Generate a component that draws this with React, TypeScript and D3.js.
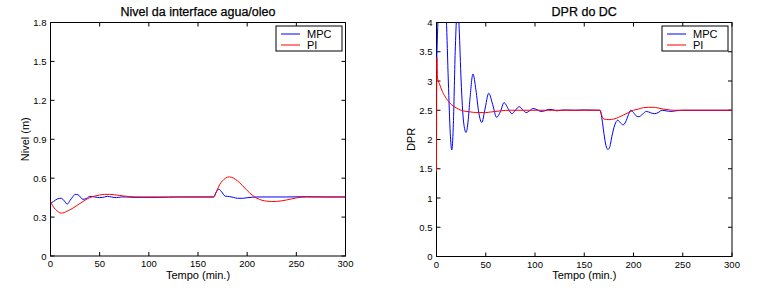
import React from "react";
import * as d3 from "d3";

// ---------- data ----------
const xTicks = [0, 50, 100, 150, 200, 250, 300];
const levelTicks = [0, 0.3, 0.6, 0.9, 1.2, 1.5, 1.8];
const dprTicks = [0, 0.5, 1, 1.5, 2, 2.5, 3, 3.5, 4];
const seriesNames = ["MPC", "PI"];

const levelMpcT = [0, 3, 7, 11, 14, 17, 20, 23, 25, 28, 33, 37, 40, 45, 50, 55, 58, 62, 67, 72, 77, 85, 95, 110, 130, 150, 166, 168, 171, 174, 177.5, 182, 186, 190, 195, 200, 205, 210, 220, 240, 260, 280, 300];
const levelMpcV = [0.405, 0.42, 0.44, 0.445, 0.425, 0.4, 0.43, 0.46, 0.475, 0.472, 0.437, 0.445, 0.46, 0.455, 0.45, 0.455, 0.46, 0.455, 0.45, 0.455, 0.455, 0.452, 0.452, 0.452, 0.455, 0.455, 0.455, 0.485, 0.515, 0.495, 0.462, 0.458, 0.452, 0.445, 0.445, 0.449, 0.453, 0.455, 0.455, 0.455, 0.457, 0.455, 0.455];

const levelPiT = [0, 2, 5, 8, 11, 14, 18, 22, 26, 30, 35, 40, 45, 50, 55, 60, 65, 70, 75, 80, 90, 100, 120, 150, 166, 169, 172, 175, 178, 182, 186, 190, 195, 200, 205, 210, 215, 220, 225, 230, 235, 240, 245, 250, 255, 260, 270, 300];
const levelPiV = [0.42, 0.39, 0.36, 0.34, 0.33, 0.335, 0.35, 0.365, 0.385, 0.405, 0.43, 0.45, 0.462, 0.47, 0.475, 0.475, 0.472, 0.467, 0.462, 0.458, 0.455, 0.455, 0.455, 0.455, 0.455, 0.5, 0.55, 0.58, 0.6, 0.61, 0.6, 0.58, 0.545, 0.505, 0.47, 0.445, 0.43, 0.423, 0.42, 0.421, 0.425, 0.432, 0.44, 0.448, 0.453, 0.455, 0.455, 0.455];

const dprMpcT = [0, 1, 2, 4, 6, 8, 10, 12, 14, 15.5, 17, 19, 20.5, 22, 23, 25, 27.5, 30, 32, 34, 37, 40, 43, 46, 49, 53, 57, 61, 65, 68.5, 73, 76.5, 80, 84, 88, 91, 94.5, 98, 102, 106, 110, 114, 118, 122, 126, 130, 140, 150, 166, 168, 170, 172, 174, 176, 178, 181, 184, 187, 189.5, 192, 195, 197, 200, 203, 205.5, 209, 213, 217, 221, 225, 229, 233, 238, 243, 250, 300];
const dprMpcV = [3.2, 3.8, 4.2, 4.7, 4.8, 4.5, 4.05, 3.0, 2.1, 1.82, 2.2, 3.5, 4.1, 4.2, 3.9, 3.0, 2.3, 2.12, 2.3, 2.7, 3.12, 2.85, 2.45, 2.29, 2.5, 2.79, 2.6, 2.38, 2.48, 2.63, 2.52, 2.44, 2.5, 2.56, 2.5, 2.46, 2.49, 2.53, 2.51, 2.48, 2.49, 2.515, 2.51, 2.49, 2.5, 2.505, 2.5, 2.505, 2.5, 2.35, 2.1, 1.9, 1.83, 1.88, 2.05, 2.25, 2.33, 2.28, 2.25, 2.3, 2.43, 2.5, 2.46, 2.4, 2.39, 2.43, 2.48, 2.46, 2.44, 2.46, 2.5, 2.49, 2.48, 2.49, 2.5, 2.5];

const dprPiT = [0, 0.4, 1, 3, 6, 10, 15, 20, 25, 30, 35, 40, 50, 55, 65, 75, 100, 166, 168, 170, 175, 180, 185, 190, 195, 200, 205, 210, 215, 220, 225, 230, 235, 240, 300];
const dprPiV = [1.45, 3.4, 3.05, 2.95, 2.82, 2.7, 2.6, 2.54, 2.5, 2.48, 2.47, 2.46, 2.46, 2.47, 2.49, 2.5, 2.5, 2.5, 2.4, 2.35, 2.34, 2.35, 2.38, 2.42, 2.46, 2.5, 2.52, 2.545, 2.55, 2.55, 2.54, 2.52, 2.51, 2.5, 2.5];

const FONT = "'Liberation Sans', Arial, sans-serif";
const COLORS = ["#0000ff", "#ff0000"];

type PanelProps = {
  id: string;
  left: number;
  right: number;
  top: number;
  bottom: number;
  title: string;
  yLabel: string;
  yMax: number;
  yTicks: number[];
  yFmt: (v: number) => string;
  series: { t: number[]; v: number[] }[];
  legendX: number;
};

function Panel(p: PanelProps) {
  const x = d3.scaleLinear().domain([0, 300]).range([p.left, p.right]);
  const y = d3.scaleLinear().domain([0, p.yMax]).range([p.bottom, p.top]);
  const line = d3
    .line<[number, number]>()
    .x((d) => x(d[0]))
    .y((d) => y(d[1]))
    .curve(d3.curveMonotoneX);
  const tl = 4;
  const cx = (p.left + p.right) / 2;
  const cy = (p.top + p.bottom) / 2;
  const lgTop = 26;
  const lgW = 66;
  const lgH = 25;
  return (
    <g>
      <defs>
        <clipPath id={p.id}>
          <rect x={p.left - 1} y={p.top} width={p.right - p.left + 1} height={p.bottom - p.top} />
        </clipPath>
      </defs>
      <rect x={p.left} y={p.top} width={p.right - p.left} height={p.bottom - p.top} fill="#fff" stroke="#000" strokeWidth={1} />
      {xTicks.map((t) => (
        <g key={"x" + t}>
          <line x1={x(t)} x2={x(t)} y1={p.bottom} y2={p.bottom - tl} stroke="#000" />
          <line x1={x(t)} x2={x(t)} y1={p.top} y2={p.top + tl} stroke="#000" />
          <text x={x(t)} y={p.bottom + 11} textAnchor="middle" fontSize={9.5} fontFamily={FONT} fill="#000">
            {t}
          </text>
        </g>
      ))}
      {p.yTicks.map((t) => (
        <g key={"y" + t}>
          <line x1={p.left} x2={p.left + tl} y1={y(t)} y2={y(t)} stroke="#000" />
          <line x1={p.right} x2={p.right - tl} y1={y(t)} y2={y(t)} stroke="#000" />
          <text x={p.left - 4} y={y(t) + 3.5} textAnchor="end" fontSize={9.5} fontFamily={FONT} fill="#000">
            {p.yFmt(t)}
          </text>
        </g>
      ))}
      <g clipPath={`url(#${p.id})`}>
        {p.series.map((s, i) => (
          <path
            key={i}
            d={line(s.t.map((t, k) => [t, s.v[k]] as [number, number])) || ""}
            fill="none"
            stroke={COLORS[i]}
            strokeWidth={1}
          />
        ))}
      </g>
      <text x={cx} y={15.5} textAnchor="middle" fontSize={12.5} fontFamily={FONT} fill="#000" stroke="#000" strokeWidth={0.25}>
        {p.title}
      </text>
      <text x={cx} y={279} textAnchor="middle" fontSize={11} fontFamily={FONT} fill="#000">
        Tempo (min.)
      </text>
      <text
        transform={`translate(${p.left - 22},${cy}) rotate(-90)`}
        textAnchor="middle"
        fontSize={11}
        fontFamily={FONT}
        fill="#000"
      >
        {p.yLabel}
      </text>
      <rect x={p.legendX} y={lgTop} width={lgW} height={lgH} fill="#fff" stroke="#000" strokeWidth={1} />
      {seriesNames.map((n, i) => (
        <g key={n}>
          <line
            x1={p.legendX + 5}
            x2={p.legendX + 24}
            y1={lgTop + 8 + i * 11}
            y2={lgTop + 8 + i * 11}
            stroke={COLORS[i]}
            strokeWidth={1}
          />
          <text x={p.legendX + 31} y={lgTop + 12 + i * 11} fontSize={11} fontFamily={FONT} fill="#000">
            {n}
          </text>
        </g>
      ))}
    </g>
  );
}

export default function App() {
  return (
    <svg
      width={768}
      height={288}
      style={{ position: "absolute", left: 0, top: 0, background: "#fff" }}
    >
      <rect x={0} y={0} width={768} height={288} fill="#fff" />
      <Panel
        id="clipL"
        left={50.5}
        right={345.5}
        top={22.5}
        bottom={256}
        title="Nivel da interface agua/oleo"
        yLabel="Nivel (m)"
        yMax={1.8}
        yTicks={levelTicks}
        yFmt={(v) => (v === 0 ? "0" : d3.format(".1f")(v))}
        series={[
          { t: levelMpcT, v: levelMpcV },
          { t: levelPiT, v: levelPiV },
        ]}
        legendX={276}
      />
      <Panel
        id="clipR"
        left={436.5}
        right={732}
        top={22.5}
        bottom={256.5}
        title="DPR do DC"
        yLabel="DPR"
        yMax={4}
        yTicks={dprTicks}
        yFmt={(v) => String(v)}
        series={[
          { t: dprMpcT, v: dprMpcV },
          { t: dprPiT, v: dprPiV },
        ]}
        legendX={662}
      />
    </svg>
  );
}
